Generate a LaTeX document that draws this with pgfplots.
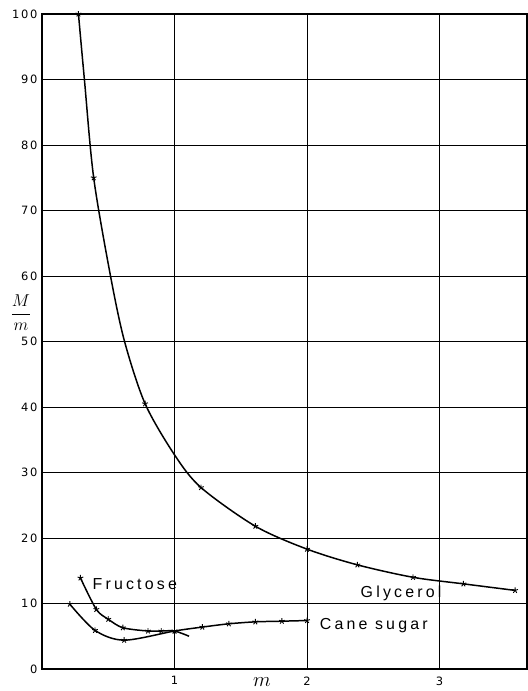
\documentclass[border=0pt]{standalone}
\usepackage{pgfplots}
\pgfplotsset{compat=1.18}
\usepackage{fontspec}
\setmainfont{Liberation Sans}
\newfontfamily\lblfont[LetterSpace=20]{Liberation Sans}
\newfontfamily\tickfont[LetterSpace=15]{DejaVu Sans}
\pgfplotsset{curve/.style={black, line width=1.5pt, smooth, mark=star, mark size=3pt, mark options={line width=0.9pt, solid}}}
\begin{document}
\begin{tikzpicture}
\begin{axis}[
  scale only axis, width=485bp, height=655bp,
  xmin=0, xmax=3.66, ymin=0, ymax=100,
  xtick={1,2,3}, ytick={0,10,...,100},
  grid=major, major grid style={black, line width=0.9pt},
  axis line style={black, line width=1.3pt},
  major tick length=0pt,
  tick label style={font=\tickfont\fontsize{11.5}{13}\selectfont},
  /pgf/number format/assume math mode=true,
  xticklabel style={yshift=-4bp},
  yticklabel style={xshift=-1bp},
  clip=false,
]
% Glycerol
\addplot[curve, mark indices={1,3,6,8,9,10,11,12,13,14}]
 coordinates {(0.275,100) (0.32,90) (0.39,75) (0.517,60) (0.623,50) (0.778,40.5) (1.0,32.7) (1.20,27.7) (1.61,21.8) (2.0,18.3) (2.38,15.9) (2.80,14.0) (3.18,13.0) (3.57,12.0)};
% Cane sugar
\addplot[curve]
 coordinates {(0.21,9.9) (0.40,5.9) (0.62,4.4) (1.0,5.8) (1.21,6.4) (1.41,6.9) (1.61,7.2) (1.81,7.3) (2.0,7.4)};
% Fructose
\addplot[curve, mark indices={1,...,7}]
 coordinates {(0.29,13.9) (0.41,9.1) (0.50,7.6) (0.61,6.3) (0.80,5.8) (0.90,5.8) (1.0,5.8) (1.11,5.0)};
\node[font=\lblfont\fontsize{16}{18}\selectfont] at (axis cs:0.70,13.0) {Fructose};
\node[font=\lblfont\fontsize{16}{18}\selectfont] at (axis cs:2.71,11.6) {Glycerol};
\node[font=\lblfont\fontsize{16}{18}\selectfont, anchor=west] at (axis cs:2.07,6.7) {Cane sugar};
\node[font=\fontsize{20}{24}\selectfont] at (axis cs:1.66,0) [yshift=-13bp] {$m$};
\node[font=\fontsize{19}{22}\selectfont] at (axis cs:0,54.4) [xshift=-21bp] {$\displaystyle\frac{M}{m}$};
\end{axis}
\pgfresetboundingbox
\path[use as bounding box] ([shift={(-42bp,-22bp)}]current axis.south west) rectangle ([shift={(1bp,14bp)}]current axis.north east);
\end{tikzpicture}
\end{document}
